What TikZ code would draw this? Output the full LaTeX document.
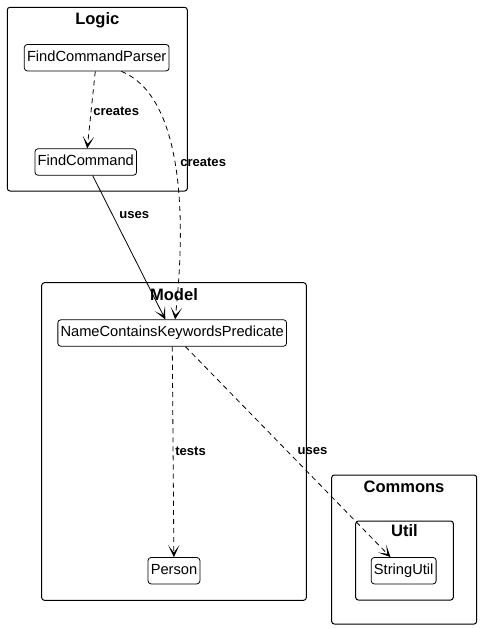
\documentclass[tikz,border=0pt]{standalone}
\usepackage{fontspec}
\setmainfont{Liberation Sans}
\usetikzlibrary{arrows.meta}
\tikzset{
    cls/.style={draw, rounded corners=2.2pt, fill=white, line width=0.6pt,
        font=\fontsize{11}{13}\selectfont, inner xsep=2pt, inner ysep=0pt,
        minimum height=19.8pt, text height=8pt, text depth=2.2pt},
    pkg/.style={draw, rounded corners=2pt, line width=0.75pt},
    pkgtitle/.style={font=\fontsize{12.4}{14}\selectfont\bfseries, anchor=base},
    lbl/.style={font=\fontsize{9.8}{12}\selectfont\bfseries, anchor=base west, inner sep=0pt},
    tip/.style={-{Stealth[length=9pt,width=8.5pt,inset=5.6pt]}},
    dep/.style={tip, line width=0.6pt, dash pattern=on 3.8pt off 3pt}
}
\begin{document}
\begin{tikzpicture}[x=0.75pt,y=-0.75pt]
    \useasboundingbox (0,0) rectangle (482,629);
    \draw[pkg] (7.3,7.3) rectangle (187.3,191);
    \node[pkgtitle] (logic) at (97.3,24) {Logic};
    \draw[pkg] (41.7,282.7) rectangle (306.3,600.3);
    \node[pkgtitle] (model) at (174,300) {Model};
    \draw[pkg] (331.7,475) rectangle (476.7,624);
    \node[pkgtitle] (commons) at (404,492) {Commons};
    \draw[pkg] (355.7,521) rectangle (453.3,600);
    \node[pkgtitle] (util) at (404.5,536) {Util};

    \node[cls] (parser) at (96.7,57.7) {FindCommandParser};
    \node[cls] (findcmd) at (85.8,162) {FindCommand};
    \node[cls] (pred) at (172.2,333) {NameContainsKeywordsPredicate};
    \node[cls] (person) at (174,570.7) {Person};
    \node[cls] (strutil) at (403.7,570.7) {StringUtil};

    \draw[dep] (parser) -- (findcmd);
    \draw[dep] (parser.-29) .. controls +(57,23) and +(13,-119) .. (pred.78);
    \draw[tip, line width=0.6pt] (findcmd) -- (pred);
    \draw[dep] (pred) -- (person);
    \draw[dep] (pred) -- (strutil);

    \node[lbl] (lcreatesa) at (93,115) {creates};
    \node[lbl] (lcreatesb) at (180,166) {creates};
    \node[lbl] (lusesa) at (119,218.3) {uses};
    \node[lbl] (ltests) at (175,455) {tests};
    \node[lbl] (lusesb) at (297.3,454) {uses};
\end{tikzpicture}
\end{document}
